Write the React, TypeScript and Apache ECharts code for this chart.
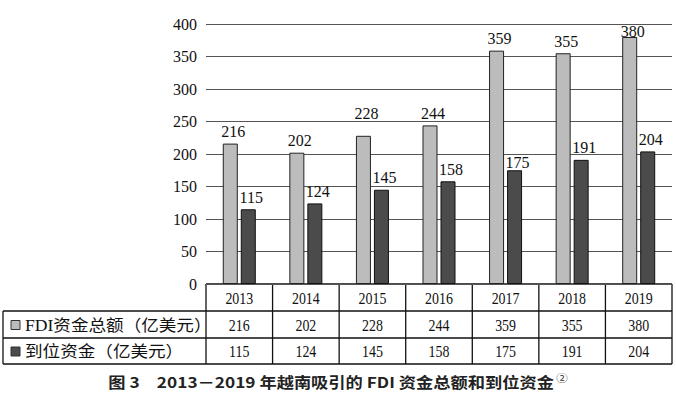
import React, { useEffect, useRef } from "react";
import * as echarts from "echarts";

const years = ["2013", "2014", "2015", "2016", "2017", "2018", "2019"];
const fdiTotal = [216, 202, 228, 244, 359, 355, 380];
const disbursed = [115, 124, 145, 158, 175, 191, 204];
const rowNames = ["FDI资金总额（亿美元）", "到位资金（亿美元）"];
const caption = "图 3　2013－2019 年越南吸引的 FDI 资金总额和到位资金";
const yMin = 0;
const yMax = 400;
const yStep = 50;

const W = 676;
const H = 401;
const G_LEFT = 206;
const G_RIGHT = 4;
const G_TOP = 24;
const G_BOTTOM = 117;

const LIGHT = "#bcbcbc";
const DARK = "#4b4b4b";
const SERIF = "'Liberation Serif', 'Times New Roman', 'Noto Sans CJK SC', serif";
const CJK = "'Liberation Serif', 'Noto Sans CJK SC', serif";

// per-label nudges observed in the reference
const fdiLabelOffsets: Record<number, [number, number]> = { 2: [3, -10], 6: [3, 6] };
const disLabelOffsets: Record<number, [number, number]> = { 4: [3, 4] };

export default function App() {
  const ref = useRef<HTMLDivElement>(null);
  useEffect(() => {
    if (!ref.current) return;
    const chart = echarts.init(ref.current, undefined, { renderer: "svg" });

    const plotW = W - G_LEFT - G_RIGHT;
    const colW = plotW / years.length;
    const tTop = H - G_BOTTOM;
    const r1 = tTop + 27;
    const r2 = r1 + 27;
    const r3 = r2 + 26;
    const lineStyle = { stroke: "#111", lineWidth: 1.3 };
    const graphics: any[] = [];
    graphics.push({ type: "line", shape: { x1: G_LEFT, y1: tTop, x2: W - G_RIGHT, y2: tTop }, style: lineStyle });
    [r1, r2, r3].forEach((y) =>
      graphics.push({ type: "line", shape: { x1: 3, y1: y, x2: W - G_RIGHT, y2: y }, style: lineStyle })
    );
    graphics.push({ type: "line", shape: { x1: 3, y1: r1, x2: 3, y2: r3 }, style: lineStyle });
    for (let i = 0; i <= years.length; i++) {
      const x = G_LEFT + i * colW;
      graphics.push({ type: "line", shape: { x1: x, y1: tTop, x2: x, y2: r3 }, style: lineStyle });
    }
    const rows = [years, fdiTotal.map(String), disbursed.map(String)];
    const rowCenters = [(tTop + r1) / 2 + 1, (r1 + r2) / 2 + 1, (r2 + r3) / 2 + 1];
    rows.forEach((row, ri) => {
      row.forEach((t, ci) => {
        graphics.push({
          type: "text",
          x: G_LEFT + (ci + 0.5) * colW,
          y: rowCenters[ri],
          scaleX: 0.87,
          style: { text: t, font: `16px ${SERIF}`, fill: "#111", align: "center", verticalAlign: "middle" },
        });
      });
    });
    [LIGHT, DARK].forEach((c, i) => {
      const cy = rowCenters[i + 1];
      graphics.push({ type: "rect", shape: { x: 11, y: cy - 5, width: 9, height: 9 }, style: { fill: c, stroke: "#333", lineWidth: 1 } });
      graphics.push({
        type: "text",
        x: 25,
        y: cy,
        scaleX: 1.1,
        style: { text: rowNames[i], font: `16px ${CJK}`, fill: "#111", align: "left", verticalAlign: "middle" },
      });
    });
    graphics.push({
      type: "text",
      x: 338,
      y: 382,
      scaleX: 1.15,
      style: {
        text: `{a|${caption}}{b|②}`,
        align: "center",
        verticalAlign: "middle",
        rich: {
          a: { fontSize: 15, fontWeight: "bold", fontFamily: "'Noto Sans CJK SC', sans-serif", fill: "#222" },
          b: { fontSize: 10, fontFamily: "'Noto Sans CJK SC', sans-serif", fill: "#333", verticalAlign: "top", padding: [0, 0, 8, 2] },
        },
      },
    });

    const mkData = (vals: number[], offs: Record<number, [number, number]>) =>
      vals.map((v, i) => (offs[i] ? { value: v, label: { offset: offs[i] } } : v));

    const labelCfg = {
      show: true,
      position: "top",
      distance: 4,
      offset: [3, 0],
      fontFamily: SERIF,
      fontSize: 16,
      color: "#111",
    };

    chart.setOption({
      animation: false,
      grid: { left: G_LEFT, right: G_RIGHT, top: G_TOP, bottom: G_BOTTOM, containLabel: false },
      xAxis: {
        type: "category",
        data: years,
        axisLine: { show: false },
        axisTick: { show: false },
        axisLabel: { show: false },
      },
      yAxis: {
        type: "value",
        min: yMin,
        max: yMax,
        interval: yStep,
        axisLine: { show: false },
        axisTick: { show: false },
        axisLabel: { fontFamily: SERIF, fontSize: 16, color: "#111", margin: 9 },
        splitLine: { lineStyle: { color: "#555", width: 1.2 } },
      },
      series: [
        {
          type: "bar",
          data: mkData(fdiTotal, fdiLabelOffsets),
          barWidth: 15,
          barGap: "20%",
          itemStyle: { color: LIGHT, borderColor: "#222", borderWidth: 1 },
          label: labelCfg,
        },
        {
          type: "bar",
          data: mkData(disbursed, disLabelOffsets),
          barWidth: 15,
          barGap: "20%",
          itemStyle: { color: DARK, borderColor: "#111", borderWidth: 1 },
          label: labelCfg,
        },
      ],
      graphic: graphics,
    });
    return () => chart.dispose();
  }, []);
  return <div ref={ref} style={{ position: "fixed", left: 0, top: 0, width: W, height: H, background: "#fff" }} />;
}
